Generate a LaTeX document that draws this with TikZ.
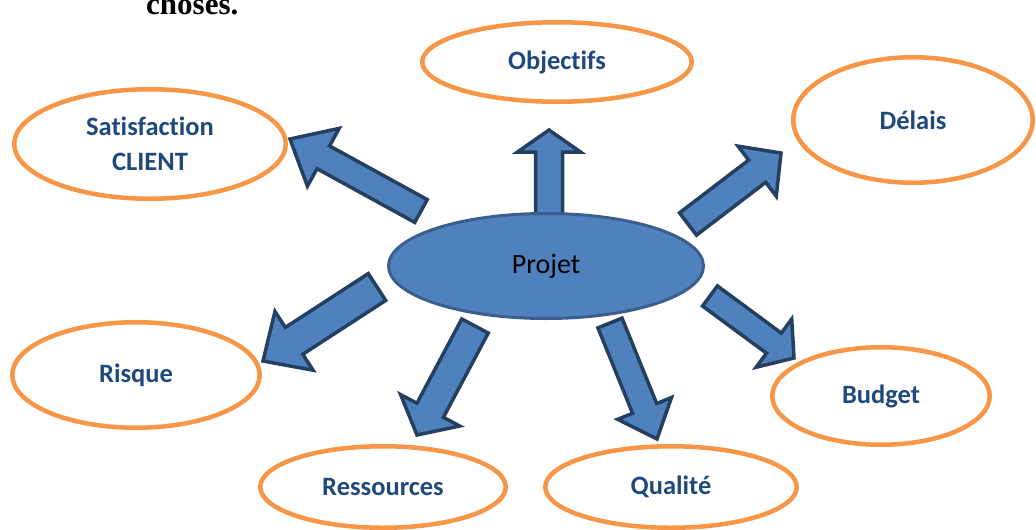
\documentclass[tikz,border=0pt]{standalone}
\usepackage{fontspec}
\setmainfont{Carlito}[Ligatures=NoCommon]
\newfontfamily\tnrfont{Liberation Serif}
\usetikzlibrary{shapes.geometric,calc}
\definecolor{orangeline}{HTML}{F79646}
\definecolor{blockfill}{HTML}{4F81BD}
\definecolor{blockline}{HTML}{243F60}
\definecolor{centerline}{HTML}{3A5F8F}
\definecolor{labelblue}{HTML}{1F497D}
\tikzset{
  goal/.style={ellipse, draw=orangeline, line width=4.5pt, fill=white,
    text=labelblue, font=\fontsize{26.5}{35}\selectfont\bfseries, align=center, inner sep=0pt},
  hub/.style={ellipse, draw=centerline, line width=3pt, fill=blockfill,
    text=black, font=\fontsize{28}{34}\selectfont, inner sep=0pt},
  blockarr/.style={draw=blockline, fill=blockfill, line width=3.5pt, line join=miter},
}
% #1 tail, #2 tip, #3 shaft half width, #4 head half width, #5 head length
\newcommand{\blockarrow}[5]{%
  \path (#2) coordinate (bt) ($(#2)!#5!(#1)$) coordinate (bh) (#1) coordinate (bs);
  \draw[blockarr] ($(bs)!#3!90:(bt)$) -- ($(bh)!#3!90:(bt)$) -- ($(bh)!#4!90:(bt)$) -- (bt)
    -- ($(bh)!#4!-90:(bt)$) -- ($(bh)!#3!-90:(bt)$) -- ($(bs)!#3!-90:(bt)$) -- cycle;
}
\begin{document}
\begin{tikzpicture}[x=1pt,y=-1pt]
\useasboundingbox (0,0) rectangle (1036,530);
\clip (0,0) rectangle (1036,530);

\node[anchor=base west, inner sep=0pt, font=\tnrfont\fontsize{31}{31}\selectfont\bfseries] (cho) at (146,14) {choses.};

% arrow end points
\coordinate (t1) at (549,215); \coordinate (p1) at (549,130);
\coordinate (t2) at (421,211); \coordinate (p2) at (290,139);
\coordinate (t3) at (688,224); \coordinate (p3) at (781,153);
\coordinate (t4) at (377,287); \coordinate (p4) at (263,361);
\coordinate (t5) at (475,326); \coordinate (p5) at (417,435);
\coordinate (t6) at (610,323); \coordinate (p6) at (657,439);
\coordinate (t7) at (710,296); \coordinate (p7) at (794,358);

\blockarrow{t1}{p1}{13.5pt}{31.5pt}{22pt}
\blockarrow{t2}{p2}{13pt}{33pt}{38pt}
\blockarrow{t3}{p3}{14pt}{31.5pt}{30pt}
\blockarrow{t4}{p4}{16pt}{35pt}{37pt}
\blockarrow{t5}{p5}{15pt}{33.5pt}{28pt}
\blockarrow{t6}{p6}{13pt}{29pt}{33pt}
\blockarrow{t7}{p7}{12.5pt}{30pt}{25pt}

\node[hub, minimum width=315pt, minimum height=105pt] (projet) at (546,266) {Projet};

\node[goal, minimum width=269.5pt, minimum height=79.5pt] (obj) at (557,62) {Objectifs};
\node[goal, minimum width=271.5pt, minimum height=109.5pt] (sat) at (150,144) {Satisfaction\\CLIENT};
\node[goal, minimum width=239.5pt, minimum height=125.5pt] (del) at (913,120) {Délais};
\node[goal, minimum width=247.5pt, minimum height=105.5pt] (ris) at (136,375) {Risque};
\node[goal, minimum width=217.5pt, minimum height=97.5pt] (bud) at (881,396) {Budget};
\node[goal, minimum width=245.5pt, minimum height=81.5pt] (res) at (383,487) {Ressources};
\node[goal, minimum width=251.5pt, minimum height=81.5pt] (qua) at (671,487) {Qualité};
\end{tikzpicture}
\end{document}
